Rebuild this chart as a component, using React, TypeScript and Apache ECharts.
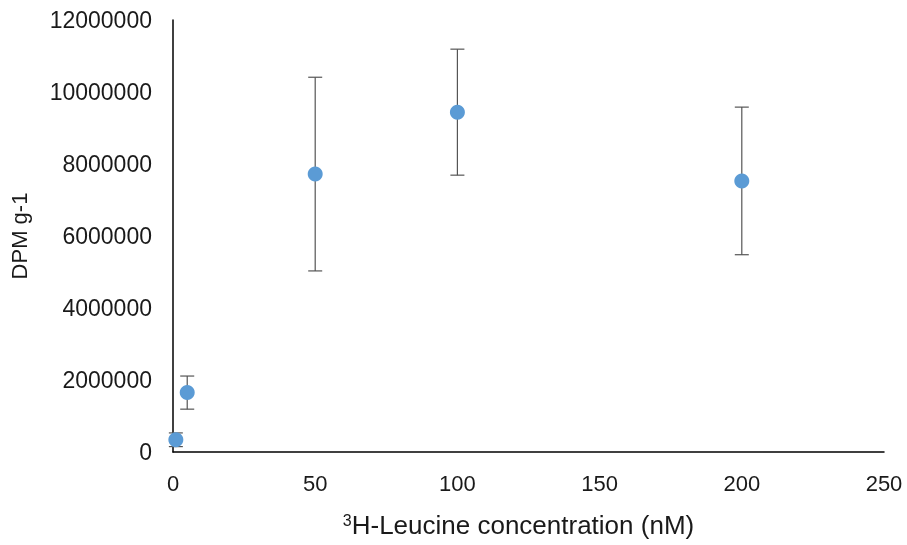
import React, { useEffect, useRef } from "react";
import * as echarts from "echarts";

const concentrations = [1, 5, 50, 100, 200];
const dpmMeans = [340000, 1650000, 7720000, 9440000, 7530000];
const dpmErrors = [190000, 460000, 2690000, 1750000, 2050000];

export default function App() {
  const ref = useRef<HTMLDivElement>(null);
  useEffect(() => {
    if (!ref.current) return;
    const chart = echarts.init(ref.current, null, { renderer: "svg" });
    const font = "Liberation Sans, Arial, sans-serif";
    const points = concentrations.map((c, i) => [c, dpmMeans[i]]);
    const errData = concentrations.map((c, i) => [c, dpmMeans[i] - dpmErrors[i], dpmMeans[i] + dpmErrors[i]]);
    chart.setOption({
      animation: false,
      grid: { left: 173, right: 23, top: 20, bottom: 93, containLabel: false, outerBoundsMode: "none" },
      xAxis: {
        type: "value",
        min: 0,
        max: 250,
        interval: 50,
        splitLine: { show: false },
        axisTick: { show: false },
        axisLine: { lineStyle: { color: "#000", width: 1.5 } },
        axisLabel: { color: "#1a1a1a", fontSize: 22, fontFamily: font, margin: 20 },
        name: "{sup|3}{main|H-Leucine concentration (nM)}",
        nameLocation: "middle",
        nameGap: 60,
        nameTextStyle: {
          padding: [0, 20, 0, 0],
          rich: {
            sup: { fontSize: 16, fontFamily: font, color: "#1a1a1a", verticalAlign: "top", padding: [0, 0, 10, 0] },
            main: { fontSize: 26, fontFamily: font, color: "#1a1a1a" },
          },
        },
      },
      yAxis: {
        type: "value",
        min: 0,
        max: 12000000,
        interval: 2000000,
        splitLine: { show: false },
        axisTick: { show: false },
        axisLine: { show: true, lineStyle: { color: "#000", width: 1.5 } },
        axisLabel: { color: "#1a1a1a", fontSize: 23, fontFamily: font, margin: 21, formatter: (v: number) => String(v) },
        name: "DPM g-1",
        nameLocation: "middle",
        nameGap: 143,
        nameTextStyle: { fontSize: 22, fontFamily: font, color: "#1a1a1a" },
      },
      series: [
        {
          type: "custom",
          data: errData,
          z: 1,
          renderItem: (params: any, api: any) => {
            const x = api.value(0);
            const lo = api.coord([x, api.value(1)]);
            const hi = api.coord([x, api.value(2)]);
            const hw = 7;
            const style = { stroke: "#555", lineWidth: 1.2 };
            return {
              type: "group",
              children: [
                { type: "line", shape: { x1: lo[0], y1: lo[1], x2: hi[0], y2: hi[1] }, style },
                { type: "line", shape: { x1: hi[0] - hw, y1: hi[1], x2: hi[0] + hw, y2: hi[1] }, style },
                { type: "line", shape: { x1: lo[0] - hw, y1: lo[1], x2: lo[0] + hw, y2: lo[1] }, style },
              ],
            };
          },
        },
        {
          type: "scatter",
          data: points,
          symbolSize: 15,
          z: 2,
          itemStyle: { color: "#5b9bd5", opacity: 1 },
        },
      ],
    });
    return () => chart.dispose();
  }, []);
  return <div ref={ref} style={{ width: 907, height: 545, position: "fixed", left: 0, top: 0 }} />;
}
